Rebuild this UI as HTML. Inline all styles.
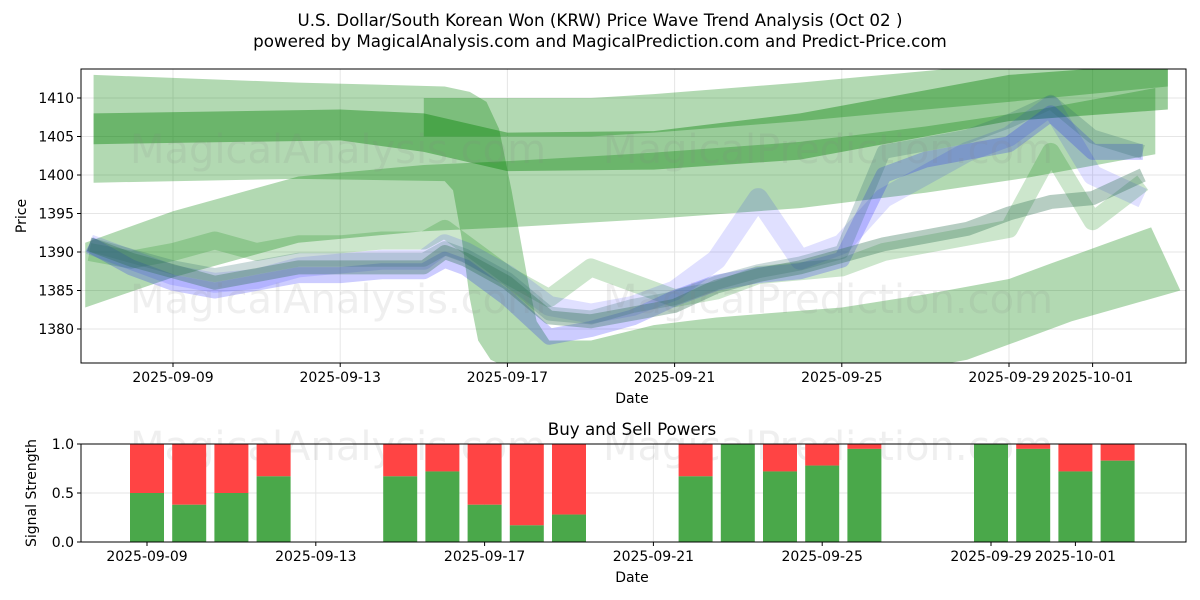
<!DOCTYPE html>
<html><head><meta charset="utf-8"><style>
body{margin:0;background:#fff;}
svg{display:block;font-family:"DejaVu Sans","Liberation Sans",sans-serif;}
</style></head><body>
<svg id="chart" width="1200" height="600" viewBox="0 0 1200 600" xmlns="http://www.w3.org/2000/svg">
<text x="600" y="26" text-anchor="middle" font-size="16.7">U.S. Dollar/South Korean Won (KRW) Price Wave Trend Analysis (Oct 02 )</text>
<text x="600" y="47" text-anchor="middle" font-size="16.7">powered by MagicalAnalysis.com and MagicalPrediction.com and Predict-Price.com</text>
<g id="topg"></g>
<g id="botg"></g>
</svg>
<script>
// ---- data ----
const tickDays = [0,4,8,12,16,20,22];
const tickLabels = ["2025-09-09","2025-09-13","2025-09-17","2025-09-21","2025-09-25","2025-09-29","2025-10-01"];
const priceTicks = [1380,1385,1390,1395,1400,1405,1410];
const bandA_upDays = [-1.9,3,6.5,7.1,7.5,7.8,8.1,8.3,8.5,8.7,9.0,10,11.5,13,16,18,20,21,23.4];
const bandA_upVals = [1413,1412,1411.5,1410.8,1409.5,1406,1398,1392,1386,1381,1378.5,1378.5,1380.5,1381.5,1382.8,1384.5,1386.5,1388.5,1393.2];
const bandA_loDays = [-1.9,3,6.5,6.7,6.9,7.1,7.3,7.6,8.2,12,16,19,20,21.5,24.1];
const bandA_loVals = [1399,1399.5,1399.2,1398,1392,1384,1378.5,1376,1374.5,1373,1373,1376,1378,1381,1385];
const bandB_days = [-2.1,0,3,6,8,11.5,15,18,20.5,23.5];
const bandB_mid = [1387,1391,1395.5,1397,1397.5,1398.6,1400,1402,1404,1407];
const bandB_half = [4.2,4.3,4.3,4.3,4.3,4.3,4.3,4.3,4.3,4.3];
const bandC_days = [-1.9,4,6,8,11.5,15,20,23.8];
const bandC_mid = [1406,1406.5,1405.5,1403,1403.2,1405,1410,1411.5];
const bandC_half = [2,2,2.5,2.5,2.5,3,3,3];
const bandD_days = [6,10,11.5,15,20,23.8];
const bandD_mid = [1407.5,1407.5,1408,1409.5,1412,1414];
const bandD_half = [2.5,2.5,2.5,2.5,2.5,2.5];
const sDays = [-2,-1,0,1,2,3,4,5,6,6.5,7,8,9,10,11,12,13,14,15,16,17,18,19,20,21,22,23.2];
const s1 = [1391,1389,1387.5,1386,1387,1388,1388,1388,1388,1390,1389,1386,1381.5,1381,1382,1383,1385.5,1387,1388,1389.5,1391,1392,1393,1395,1396.5,1397,1400];
const s2 = [1391,1388,1386,1385,1386,1387,1387,1387.5,1387.5,1389,1388,1384,1379,1380,1381.5,1384,1386,1387,1387.5,1389,1400,1402,1403,1404,1408,1403,1403];
const s3 = [1391,1389,1387,1386,1386.5,1388,1388.5,1389,1389,1391,1390,1387,1383,1382,1383,1385,1389,1397,1389,1391,1397,1400,1403,1405,1409,1400,1397];
const s4 = [1390,1389,1390,1391.5,1390,1391,1391,1391.5,1391.5,1393,1391,1387,1384,1388,1386,1384,1385,1387,1387.5,1388,1390,1391,1392,1393,1403,1394,1399];
const s5 = [1391,1389.5,1388,1387,1388,1389,1389,1389,1389,1390.5,1389.5,1386.5,1382,1381.5,1383,1384,1386,1387.5,1388.5,1390,1403,1404,1405,1407,1409.5,1405,1403];
const barDays = [0,1,2,3,6,7,8,9,10,13,14,15,16,17,20,21,22,23];
const buyVals = [0.5,0.38,0.5,0.67,0.67,0.72,0.38,0.17,0.28,0.67,1.0,0.72,0.78,0.95,1.0,0.95,0.72,0.83];
const sigTicks = [0,0.5,1.0];
const sigLabels = ["0.0","0.5","1.0"];

const NS="http://www.w3.org/2000/svg";
const L=81,R=1186,T1=69,B1=363,T2=444,B2=542;
const xs=d=>173+d*41.8;
const xb=d=>147+d*42.2;
const ys=p=>98+(1410-p)*7.7;
const ys2=v=>B2-v*(B2-T2);
function mk(tag,attrs,parent){const e=document.createElementNS(NS,tag);for(const k in attrs)e.setAttribute(k,attrs[k]);parent.appendChild(e);return e;}
const topG=document.getElementById('topg'),botG=document.getElementById('botg');

const defs=mk('defs',{},topG);
const cp=mk('clipPath',{id:'c1'},defs);mk('rect',{x:L,y:T1,width:R-L,height:B1-T1},cp);
function grid(parent,t,b,fx){tickDays.forEach(d=>{const g=mk('line',{x1:fx(d),x2:fx(d),y1:t,y2:b,stroke:'#e6e6e6','stroke-width':1},parent);});}
grid(topG,T1,B1,xs);
priceTicks.forEach(p=>{const g=mk('line',{x1:L,x2:R,y1:ys(p),y2:ys(p),stroke:'#e6e6e6'},topG);});

const plot=mk('g',{'clip-path':'url(#c1)'},topG);


function area(upD,upV,loD,loV,color,op,name){
  const up=upD.map((d,i)=>xs(d)+','+ys(upV[i]));
  const lo=loD.map((d,i)=>xs(d)+','+ys(loV[i])).reverse();
  const e=mk('polygon',{points:up.concat(lo).join(' '),fill:color,'fill-opacity':op,stroke:'none'},plot);
  
  
}
function band(days,mid,half,color,op,name){
  area(days,mid.map((m,i)=>m+half[i]),days,mid.map((m,i)=>m-half[i]),color,op,name);
}
function line(days,vals,color,op,w,name){
  const pts=days.map((d,i)=>xs(d)+','+ys(vals[i])).join(' ');
  const e=mk('polyline',{points:pts,fill:'none',stroke:color,'stroke-opacity':op,'stroke-width':w,'stroke-linejoin':'round','stroke-linecap':'butt'},plot);
  
  
}
area(bandA_upDays,bandA_upVals,bandA_loDays,bandA_loVals,'#008000',0.3,'wave-band-a');
band(bandB_days,bandB_mid,bandB_half,'#008000',0.3,'wave-band-b');
band(bandD_days,bandD_mid,bandD_half,'#008000',0.3,'wave-band-d');
band(bandC_days,bandC_mid,bandC_half,'#008000',0.4,'wave-band-c');
line(sDays,s4,'#008000',0.2,18,'wave-line-4');
line(sDays,s3,'#0000ff',0.12,20,'wave-line-3');
line(sDays,s2,'#0000ff',0.2,16,'wave-line-2');
line(sDays,s5,'#2e6b6b',0.25,14,'wave-line-5');
line(sDays,s1,'#2e7050',0.35,14,'wave-line-1');

function wm(parent,tx,ty,txt){const t=mk('text',{x:tx,y:ty,'font-size':40,fill:'#808080','fill-opacity':0.13},parent);t.textContent=txt;}
wm(topG,130,163,'MagicalAnalysis.com');wm(topG,603,163,'MagicalPrediction.com');
wm(topG,130,313,'MagicalAnalysis.com');wm(topG,603,313,'MagicalPrediction.com');

mk('rect',{x:L,y:T1,width:R-L,height:B1-T1,fill:'none',stroke:'#000','stroke-width':1},topG);
function xticks(parent,b,fx){tickDays.forEach((d,i)=>{mk('line',{x1:fx(d),x2:fx(d),y1:b,y2:b+4,stroke:'#000'},parent);const t=mk('text',{x:fx(d),y:b+19,'text-anchor':'middle','font-size':14},parent);t.textContent=tickLabels[i];});}
xticks(topG,B1,xs);
priceTicks.forEach(p=>{mk('line',{x1:L-4,x2:L,y1:ys(p),y2:ys(p),stroke:'#000'},topG);const t=mk('text',{x:L-7,y:ys(p)+5,'text-anchor':'end','font-size':14},topG);t.textContent=p;});
let tx=mk('text',{x:632,y:403,'text-anchor':'middle','font-size':14},topG);tx.textContent='Date';
tx=mk('text',{x:26,y:216,'text-anchor':'middle','font-size':14,transform:'rotate(-90 26 216)'},topG);tx.textContent='Price';

tx=mk('text',{x:632,y:435,'text-anchor':'middle','font-size':16.7},botG);tx.textContent='Buy and Sell Powers';
grid(botG,T2,B2,xb);
sigTicks.forEach(v=>{const g=mk('line',{x1:L,x2:R,y1:ys2(v),y2:ys2(v),stroke:'#e6e6e6'},botG);});
wm(botG,130,460,'MagicalAnalysis.com');wm(botG,603,460,'MagicalPrediction.com');
barDays.forEach((d,i)=>{
  const bw=34,bx=xb(d)-bw/2;
  const r=mk('rect',{x:bx,y:ys2(1),width:bw,height:ys2(buyVals[i])-ys2(1),fill:'#ff4444'},botG);
  
  const g=mk('rect',{x:bx,y:ys2(buyVals[i]),width:bw,height:B2-ys2(buyVals[i]),fill:'#4aa84a'},botG);
  
});
mk('rect',{x:L,y:T2,width:R-L,height:B2-T2,fill:'none',stroke:'#000'},botG);
xticks(botG,B2,xb);
sigTicks.forEach((v,i)=>{mk('line',{x1:L-4,x2:L,y1:ys2(v),y2:ys2(v),stroke:'#000'},botG);const tt=mk('text',{x:L-7,y:ys2(v)+5,'text-anchor':'end','font-size':14},botG);tt.textContent=sigLabels[i];});
tx=mk('text',{x:632,y:582,'text-anchor':'middle','font-size':14},botG);tx.textContent='Date';
tx=mk('text',{x:36,y:493,'text-anchor':'middle','font-size':14,transform:'rotate(-90 36 493)'},botG);tx.textContent='Signal Strength';
</script>
</body></html>
